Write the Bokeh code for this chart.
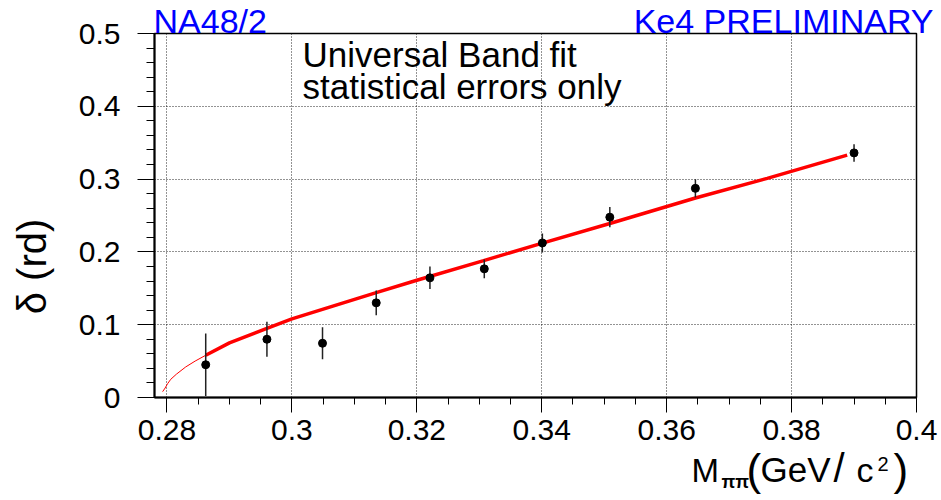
import math
from bokeh.plotting import figure
from bokeh.layouts import column
from bokeh.models import Range1d, FixedTicker, Label, CustomJSTickFormatter, ColumnDataSource
from bokeh.embed import file_html
from bokeh.resources import INLINE

# ---------------- data ----------------
mass = [0.2862, 0.2960, 0.3049, 0.3135, 0.3221, 0.3308, 0.3401, 0.3509, 0.3646, 0.3900]
delta = [0.045, 0.080, 0.0745, 0.130, 0.1644, 0.1767, 0.2123, 0.2477, 0.2873, 0.3360]
delta_err = [0.043, 0.024, 0.022, 0.017, 0.0155, 0.013, 0.013, 0.014, 0.0126, 0.012]

fit_thin_x = [0.2793, 0.2797, 0.2801, 0.2806, 0.2815, 0.2830, 0.2845, 0.2862]
fit_thin_y = [0.008, 0.013, 0.019, 0.025, 0.032, 0.042, 0.050, 0.058]
fit_x = [0.2862, 0.2900, 0.2960, 0.3000, 0.3135, 0.3200, 0.3307, 0.3401, 0.3509, 0.3646, 0.3761, 0.3889]
fit_y = [0.058, 0.075, 0.095, 0.108, 0.144, 0.161, 0.188, 0.212, 0.239, 0.274, 0.301, 0.333]

x_ticks = [0.28, 0.30, 0.32, 0.34, 0.36, 0.38, 0.40]
x_tick_labels = ["0.28", "0.3", "0.32", "0.34", "0.36", "0.38", "0.4"]
x_minor = [0.28 + 0.005 * i for i in range(25)]
y_ticks = [0.0, 0.1, 0.2, 0.3, 0.4, 0.5]
y_tick_labels = ["0", "0.1", "0.2", "0.3", "0.4", "0.5"]
y_minor = [0.02 * i for i in range(26)]

X_START, X_END = 0.278, 0.4
Y_START, Y_END = 0.0, 0.5

# ---------------- layout ----------------
W, H = 941, 500
FL, FR, FT, FB = 154, 25, 33, 103   # frame borders inside the canvas
FW, FH = W - FL - FR, H - FT - FB
FONT = "Liberation Sans"
BASE_SHIFT = 0.4   # empirical offset of the rendered baseline, as a fraction of font size

p = figure(width=W, height=H, output_backend="svg", toolbar_location=None,
           x_range=Range1d(X_START, X_END), y_range=Range1d(Y_START, Y_END),
           min_border_left=FL, min_border_right=FR, min_border_top=FT, min_border_bottom=FB)
p.frame_align = False
p.background_fill_color = "white"
p.border_fill_color = "white"
p.outline_line_color = "black"
p.outline_line_width = 1.5

# helpers: page pixel -> data coordinate of the main frame
def X(px):
    return X_START + (px - FL) * (X_END - X_START) / FW

def Y(py):
    return Y_START + (H - FB - py) * (Y_END - Y_START) / FH

fmt_code = ("let b=0; for (let i=0;i<tv.length;i++){ if (Math.abs(tv[i]-tick) < "
            "Math.abs(tv[b]-tick)) b=i; } return tl[b];")

xa = p.xaxis[0]
xa.ticker = FixedTicker(ticks=x_ticks, minor_ticks=x_minor)
xa.formatter = CustomJSTickFormatter(args=dict(tv=x_ticks, tl=x_tick_labels), code=fmt_code)
xa.major_tick_out = 15
xa.major_tick_in = 0
xa.minor_tick_out = 7
xa.minor_tick_in = 0
xa.major_label_standoff = 7

ya = p.yaxis[0]
ya.ticker = FixedTicker(ticks=y_ticks, minor_ticks=y_minor)
ya.formatter = CustomJSTickFormatter(args=dict(tv=y_ticks, tl=y_tick_labels), code=fmt_code)
ya.major_tick_out = 17
ya.major_tick_in = 0
ya.minor_tick_out = 8
ya.minor_tick_in = 0
ya.major_label_standoff = 17

for ax in (xa, ya):
    ax.axis_line_color = "black"
    ax.axis_line_width = 2
    ax.major_tick_line_color = "black"
    ax.minor_tick_line_color = "black"
    ax.major_tick_line_width = 1
    ax.minor_tick_line_width = 1
    ax.major_label_text_font = FONT
    ax.major_label_text_font_size = "30px"
    ax.major_label_text_color = "black"

for g in (p.xgrid[0], p.ygrid[0]):
    g.grid_line_color = "black"
    g.grid_line_dash = "1 2"
    g.grid_line_width = 1
    g.grid_line_alpha = 0.85
p.xgrid[0].ticker = FixedTicker(ticks=x_ticks)
p.ygrid[0].ticker = FixedTicker(ticks=y_ticks)

# ---------------- glyphs ----------------
lo = [d - e for d, e in zip(delta, delta_err)]
hi = [d + e for d, e in zip(delta, delta_err)]
src = ColumnDataSource(dict(x=mass, y=delta, lo=lo, hi=hi))

p.line(fit_thin_x, fit_thin_y, line_color="#ff0000", line_width=1)
p.line(fit_x, fit_y, line_color="#ff0000", line_width=3.5)
p.segment(x0="x", y0="lo", x1="x", y1="hi", source=src, line_color="#222222", line_width=1.5)
p.scatter(x="x", y="y", source=src, size=8, fill_color="black", line_color="black")

# texts inside the frame
for txt, py in (("Universal Band fit", 68), ("statistical errors only", 100)):
    p.add_layout(Label(x=X(302), y=Y(py - BASE_SHIFT * 35), text=txt, text_font=FONT,
                       text_font_size="35px", text_color="black", text_align="left",
                       text_baseline="alphabetic"))

# ---------------- transparent overlay for texts outside the frame ----------------
ov = figure(width=W, height=H, output_backend="svg", toolbar_location=None,
            x_range=Range1d(0, W), y_range=Range1d(0, H),
            x_axis_location=None, y_axis_location=None,
            min_border_left=0, min_border_right=0, min_border_top=0, min_border_bottom=0,
            margin=(-H, 0, 0, 0))
ov.frame_align = False
ov.grid.visible = False
ov.outline_line_color = None
ov.background_fill_color = None
ov.border_fill_color = None

def olab(text, px, py, size, color="black", align="left", style="normal"):
    ov.add_layout(Label(x=px, y=H - (py - BASE_SHIFT * size), text=text, text_font=FONT,
                        text_font_size=f"{size}px", text_color=color, text_align=align,
                        text_baseline="alphabetic", text_font_style=style))

olab("NA48/2", 153, 34, 34, color="#0000ff")
olab("Ke4 PRELIMINARY", 933, 34, 34, color="#0000ff", align="right")

# y-axis title (rotated)
ov.add_layout(Label(x=31, y=H - 266, text="\u03b4 (rd)", text_font=FONT, text_font_size="40px",
                    text_color="black", text_align="center", text_baseline="middle",
                    angle=math.pi / 2))

# x-axis title  M_{ππ}(GeV/c^{2})
olab("M", 691, 483, 33)
olab("\u03c0\u03c0", 721, 489, 18, style="bold")
olab("(", 746, 487, 44)
olab("GeV", 760, 483, 35)
olab("/", 833, 483, 40)
olab("c", 856, 483, 34)
olab("2", 877, 471, 20)
olab(")", 893, 487, 44)

layout = column(p, ov)
open("out.html", "w").write(file_html(layout, INLINE))
